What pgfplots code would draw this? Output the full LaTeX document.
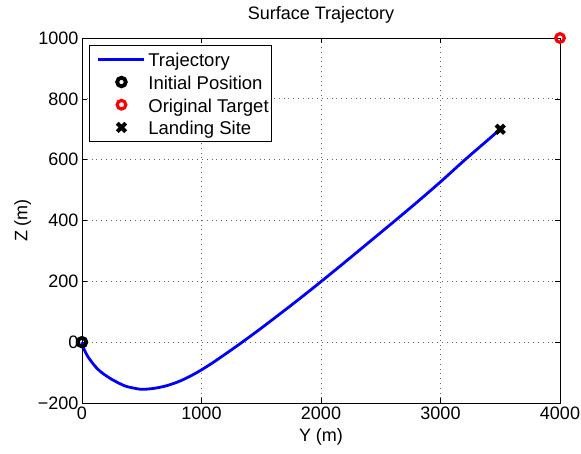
\documentclass[border=0pt]{standalone}
\usepackage{pgfplots}
\pgfplotsset{compat=1.18}
\usepackage{fontspec}
\setmainfont{Liberation Sans}
\pgfplotsset{
  lineleg/.style={legend image code/.code={\path (0pt,0pt); \draw[##1] (7.4pt,0pt) -- (53.4pt,0pt);}},
  markleg/.style={legend image code/.code={\path (0pt,0pt) (53.4pt,0pt); \draw[mark repeat=2,mark phase=2,##1] plot coordinates {(7.4pt,0pt)(30.4pt,0pt)(53.4pt,0pt)};}},
}
\begin{document}
\begin{tikzpicture}
\useasboundingbox (-82pt,-50pt) rectangle (499pt,403pt);
\begin{axis}[
  at={(0,0)}, anchor=south west,
  scale only axis, width=478pt, height=365pt,
  xmin=0, xmax=4000, ymin=-200, ymax=1000,
  xtick={0,1000,2000,3000,4000},
  xticklabels={0,1000,2000,3000,4000},
  ytick={-200,0,200,400,600,800,1000},
  yticklabels={−200,0,200,400,600,800,1000},
  tick align=inside, major tick length=5pt,
  grid=major, grid style={line width=0.7pt, black!60, dash pattern=on 0.8pt off 4pt},
  axis line style={line width=0.8pt},
  every tick/.style={black, line width=0.6pt},
  font=\fontsize{18}{21}\selectfont,
  title={Surface Trajectory},
  title style={yshift=5pt},
  xlabel={Y (m)}, ylabel={Z (m)},
  xlabel style={yshift=-2pt},
  clip=false,
  legend cell align=left,
  legend style={at={(0.015,0.981)}, anchor=north west, draw=black, line width=0.8pt,
    font=\fontsize{18.5}{21}\selectfont, inner xsep=0.1pt, inner ysep=4.7pt, row sep=4.1pt,
    nodes={inner ysep=0pt, inner xsep=2.5pt, text height=16.6pt, text depth=2pt}},
]
\addplot[blue, line width=2.8pt, smooth, lineleg]
coordinates {
(0,0) (10,-15) (25,-30) (50,-48) (81,-65) (125,-86) (175,-103) (248,-122)
(300,-133) (360,-144) (420,-150) (500,-155) (600,-152) (700,-144) (800,-131)
(900,-113) (1000,-91) (1100,-66) (1200,-39) (1300,-11.5) (1400,17) (1500,46)
(1600,76) (1700,106) (1800,136.5) (1900,167.5) (2000,199) (2200,263) (2400,328)
(2600,393) (2800,459) (3000,527) (3200,598) (3400,666) (3500,700)
};
\addlegendentry{Trajectory}
\addplot[only marks, mark=o, black, mark size=4.3pt, mark options={line width=3.8pt}, markleg]
coordinates {(0,0)};
\addlegendentry{Initial Position}
\addplot[only marks, mark=o, red, mark size=4.3pt, mark options={line width=3.2pt}, markleg]
coordinates {(4000,1000)};
\addlegendentry{Original Target}
\addplot[only marks, mark=x, black, mark size=6pt, mark options={line width=4pt}, markleg]
coordinates {(3500,700)};
\addlegendentry{Landing Site}
\end{axis}
\end{tikzpicture}
\end{document}
